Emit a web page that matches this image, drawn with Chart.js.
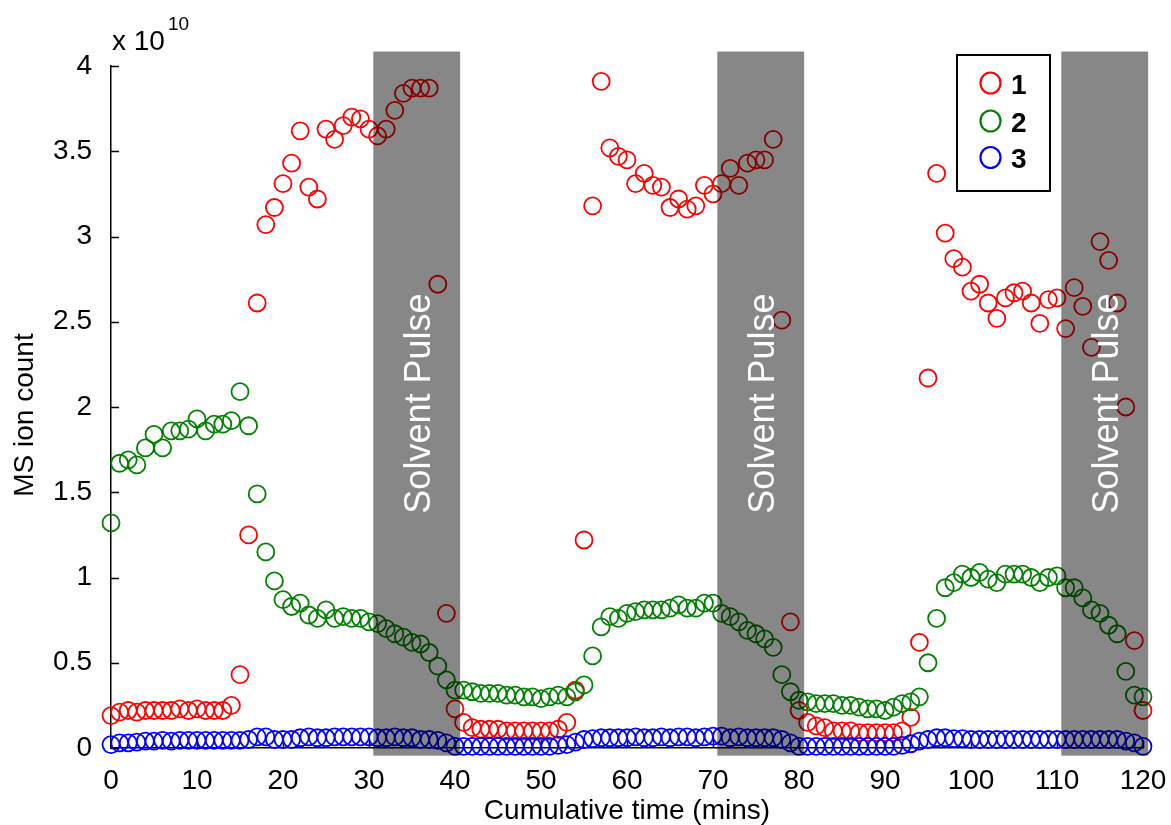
<!DOCTYPE html>
<html>
<head>
<meta charset="utf-8">
<script src="https://cdn.jsdelivr.net/npm/chart.js@4.4.0/dist/chart.umd.min.js"></script>
<style>
  html, body { margin: 0; padding: 0; background: #fff; }
</style>
</head>
<body>
<canvas id="msChart" width="1171" height="825"></canvas>
<script>
// sample times (mins)
var minutes = [
  0, 1, 2, 3, 4, 5, 6, 7, 8, 9, 10, 11, 12, 13, 14, 15, 16, 17, 18, 19,
  20, 21, 22, 23, 24, 25, 26, 27, 28, 29, 30, 31, 32, 33, 34, 35, 36, 37, 38, 39,
  40, 41, 42, 43, 44, 45, 46, 47, 48, 49, 50, 51, 52, 53, 54, 55, 56, 57, 58, 59,
  60, 61, 62, 63, 64, 65, 66, 67, 68, 69, 70, 71, 72, 73, 74, 75, 76, 77, 78, 79,
  80, 81, 82, 83, 84, 85, 86, 87, 88, 89, 90, 91, 92, 93, 94, 95, 96, 97, 98, 99,
  100, 101, 102, 103, 104, 105, 106, 107, 108, 109, 110, 111, 112, 113, 114, 115, 116, 117, 118, 119,
  120
];

// MS ion counts, in units of 10^10
var ion1 = [
  0.19, 0.21, 0.22, 0.21, 0.22, 0.22, 0.22, 0.22, 0.23, 0.22, 0.23, 0.22, 0.22, 0.22, 0.25, 0.43, 1.25, 2.61, 3.07, 3.17,
  3.31, 3.43, 3.62, 3.29, 3.22, 3.63, 3.57, 3.65, 3.70, 3.69, 3.63, 3.59, 3.63, 3.74, 3.84, 3.87, 3.87, 3.87, 2.72, 0.79,
  0.23, 0.15, 0.12, 0.11, 0.11, 0.11, 0.10, 0.10, 0.10, 0.10, 0.10, 0.10, 0.11, 0.15, 0.34, 1.22, 3.18, 3.91, 3.52, 3.47,
  3.45, 3.31, 3.37, 3.30, 3.29, 3.17, 3.22, 3.16, 3.18, 3.30, 3.25, 3.31, 3.40, 3.30, 3.43, 3.45, 3.45, 3.57, 2.51, 0.74,
  0.22, 0.15, 0.13, 0.12, 0.10, 0.10, 0.10, 0.09, 0.09, 0.09, 0.09, 0.09, 0.10, 0.18, 0.62, 2.17, 3.37, 3.02, 2.87, 2.82,
  2.68, 2.72, 2.61, 2.52, 2.64, 2.67, 2.68, 2.61, 2.49, 2.63, 2.64, 2.46, 2.70, 2.59, 2.35, 2.97, 2.86, 2.61, 2.00, 0.63,
  0.22
];
var ion2 = [
  1.32, 1.67, 1.69, 1.66, 1.76, 1.84, 1.76, 1.86, 1.86, 1.87, 1.93, 1.86, 1.90, 1.90, 1.92, 2.09, 1.89, 1.49, 1.15, 0.98,
  0.87, 0.83, 0.85, 0.78, 0.76, 0.81, 0.76, 0.77, 0.76, 0.76, 0.74, 0.73, 0.70, 0.67, 0.65, 0.62, 0.61, 0.56, 0.48, 0.40,
  0.34, 0.34, 0.33, 0.32, 0.32, 0.32, 0.31, 0.31, 0.30, 0.30, 0.29, 0.30, 0.31, 0.30, 0.33, 0.37, 0.54, 0.71, 0.77, 0.76,
  0.79, 0.80, 0.81, 0.81, 0.81, 0.82, 0.84, 0.82, 0.82, 0.85, 0.85, 0.79, 0.77, 0.74, 0.69, 0.67, 0.64, 0.59, 0.43, 0.33,
  0.28, 0.27, 0.26, 0.26, 0.26, 0.25, 0.25, 0.24, 0.23, 0.23, 0.22, 0.24, 0.26, 0.27, 0.30, 0.50, 0.76, 0.94, 0.97, 1.02,
  1.00, 1.03, 0.99, 0.97, 1.02, 1.02, 1.02, 1.00, 0.97, 1.00, 1.01, 0.94, 0.94, 0.88, 0.81, 0.79, 0.72, 0.67, 0.45, 0.31,
  0.30
];
var ion3 = [
  0.02, 0.03, 0.03, 0.035, 0.04, 0.04, 0.045, 0.04, 0.045, 0.045, 0.045, 0.045, 0.045, 0.045, 0.045, 0.045, 0.05, 0.065, 0.065, 0.05,
  0.05, 0.05, 0.06, 0.065, 0.06, 0.06, 0.065, 0.065, 0.065, 0.065, 0.065, 0.06, 0.06, 0.065, 0.06, 0.06, 0.05, 0.05, 0.045, 0.03,
  0.01, 0.01, 0.01, 0.01, 0.01, 0.01, 0.01, 0.01, 0.01, 0.01, 0.01, 0.01, 0.015, 0.02, 0.035, 0.05, 0.055, 0.06, 0.06, 0.06,
  0.06, 0.065, 0.06, 0.06, 0.065, 0.06, 0.065, 0.065, 0.06, 0.065, 0.07, 0.07, 0.06, 0.065, 0.06, 0.06, 0.06, 0.06, 0.05, 0.03,
  0.01, 0.01, 0.01, 0.01, 0.01, 0.01, 0.01, 0.01, 0.01, 0.01, 0.01, 0.01, 0.015, 0.025, 0.04, 0.05, 0.06, 0.06, 0.055, 0.055,
  0.05, 0.05, 0.05, 0.05, 0.05, 0.05, 0.05, 0.05, 0.05, 0.05, 0.05, 0.05, 0.05, 0.05, 0.05, 0.05, 0.05, 0.05, 0.04, 0.03,
  0.01
];

var seriesNames = ['1', '2', '3'];
var seriesColors = ['#ff0000', '#008000', '#0000ff'];
var xTicks = [0, 10, 20, 30, 40, 50, 60, 70, 80, 90, 100, 110, 120];
var yTicks = [0, 0.5, 1, 1.5, 2, 2.5, 3, 3.5, 4];
// solvent pulse windows (mins)
var pulses = [[30.5, 40.6], [70.5, 80.6], [110.5, 120.6]];
var pulseLabel = 'Solvent Pulse';

var FONT = '"Liberation Sans", Arial, sans-serif';

function toPoints(ys) {
  return minutes.map(function (m, i) { return { x: m, y: ys[i] }; });
}

// inward tick marks, MATLAB style
var tickPlugin = {
  id: 'inTicks',
  beforeDatasetsDraw: function (chart) {
    var ctx = chart.ctx, a = chart.chartArea;
    var xs = chart.scales.x, ys = chart.scales.y;
    ctx.save();
    ctx.strokeStyle = '#000';
    ctx.lineWidth = 1.5;
    ctx.beginPath();
    yTicks.forEach(function (v) {
      var py = Math.round(ys.getPixelForValue(v)) + 0.5;
      ctx.moveTo(a.left, py);
      ctx.lineTo(a.left + 8, py);
    });
    xTicks.forEach(function (v) {
      var px = Math.round(xs.getPixelForValue(v)) + 0.5;
      ctx.moveTo(px, a.bottom);
      ctx.lineTo(px, a.bottom - 8);
    });
    ctx.stroke();
    ctx.restore();
  }
};

// shaded solvent pulse bands, drawn over the markers
var pulsePlugin = {
  id: 'pulses',
  afterDatasetsDraw: function (chart) {
    var ctx = chart.ctx;
    var xs = chart.scales.x, ys = chart.scales.y;
    var top = ys.getPixelForValue(4.085), bot = ys.getPixelForValue(-0.045);
    ctx.save();
    pulses.forEach(function (p) {
      var x0 = xs.getPixelForValue(p[0]), x1 = xs.getPixelForValue(p[1]);
      ctx.fillStyle = 'rgba(0,0,0,0.47)';
      ctx.fillRect(x0, top, x1 - x0, bot - top);
      ctx.save();
      ctx.translate((x0 + x1) / 2 + 13.5, ys.getPixelForValue(2.02));
      ctx.rotate(-Math.PI / 2);
      ctx.fillStyle = '#fff';
      ctx.font = '36px ' + FONT;
      ctx.textAlign = 'center';
      ctx.textBaseline = 'alphabetic';
      ctx.fillText(pulseLabel, 0, 0);
      ctx.restore();
    });
    ctx.restore();
  }
};

// y title, boxed legend and the x10^10 multiplier
var extrasPlugin = {
  id: 'extras',
  afterDraw: function (chart) {
    var ctx = chart.ctx, a = chart.chartArea;
    ctx.save();
    ctx.fillStyle = '#000';

    // y axis title
    ctx.save();
    ctx.translate(33, (a.top + a.bottom) / 2 + 8);
    ctx.rotate(-Math.PI / 2);
    ctx.font = '28px ' + FONT;
    ctx.textAlign = 'center';
    ctx.textBaseline = 'alphabetic';
    ctx.fillText('MS ion count', 0, 0);
    ctx.restore();

    // multiplier
    ctx.textAlign = 'left';
    ctx.textBaseline = 'alphabetic';
    ctx.font = '28px ' + FONT;
    ctx.fillText('x 10', a.left + 1, 50);
    ctx.font = '19px ' + FONT;
    ctx.fillText('10', a.left + 57, 30);

    // legend
    ctx.fillStyle = '#fff';
    ctx.fillRect(957, 55, 93, 136);
    ctx.strokeStyle = '#000';
    ctx.lineWidth = 2;
    ctx.strokeRect(957, 55, 93, 136);
    var rows = [83, 121, 157.5];
    seriesNames.forEach(function (n, i) {
      ctx.beginPath();
      ctx.strokeStyle = seriesColors[i];
      ctx.lineWidth = 2.2;
      ctx.ellipse(990.5, rows[i], 10, 10.5, 0, 0, Math.PI * 2);
      ctx.stroke();
      ctx.fillStyle = '#000';
      ctx.font = 'bold 28px ' + FONT;
      ctx.fillText(n, 1011, rows[i] + 10.5);
    });
    ctx.restore();
  }
};

var datasets = [ion1, ion2, ion3].map(function (ys, i) {
  return {
    label: seriesNames[i],
    data: toPoints(ys),
    borderColor: seriesColors[i],
    backgroundColor: 'rgba(0,0,0,0)',
    pointRadius: 8.5,
    pointHoverRadius: 8.5,
    pointBorderWidth: 1.8,
    order: 2 - i,
    clip: false
  };
});

new Chart(document.getElementById('msChart'), {
  type: 'scatter',
  data: { datasets: datasets },
  options: {
    responsive: false,
    animation: false,
    devicePixelRatio: 1,
    layout: { padding: { top: 66, right: 28, bottom: 0, left: 0 } },
    plugins: {
      legend: { display: false },
      tooltip: { enabled: false }
    },
    scales: {
      x: {
        type: 'linear',
        min: 0,
        max: 120,
        afterFit: function (s) { s.height = 77; s.paddingLeft = 0; s.paddingRight = 0; },
        afterBuildTicks: function (s) { s.ticks = xTicks.map(function (v) { return { value: v }; }); },
        grid: { display: false },
        border: { display: true, color: '#000', width: 1.5 },
        ticks: { color: '#000', padding: 8, maxRotation: 0, font: { family: FONT, size: 28 } },
        title: {
          display: true,
          text: 'Cumulative time (mins)',
          color: '#000',
          padding: { top: 0, bottom: 0 },
          font: { family: FONT, size: 28, lineHeight: 1.0 }
        }
      },
      y: {
        type: 'linear',
        min: 0,
        max: 4,
        afterFit: function (s) { s.width = 111; s.paddingTop = 0; s.paddingBottom = 0; },
        afterBuildTicks: function (s) { s.ticks = yTicks.map(function (v) { return { value: v }; }); },
        grid: { display: false },
        border: { display: true, color: '#000', width: 1.5 },
        ticks: {
          color: '#000',
          padding: 11,
          font: { family: FONT, size: 28 },
          callback: function (v) { return String(v); }
        },
        title: { display: false }
      }
    }
  },
  plugins: [tickPlugin, pulsePlugin, extrasPlugin]
});
</script>
</body>
</html>
